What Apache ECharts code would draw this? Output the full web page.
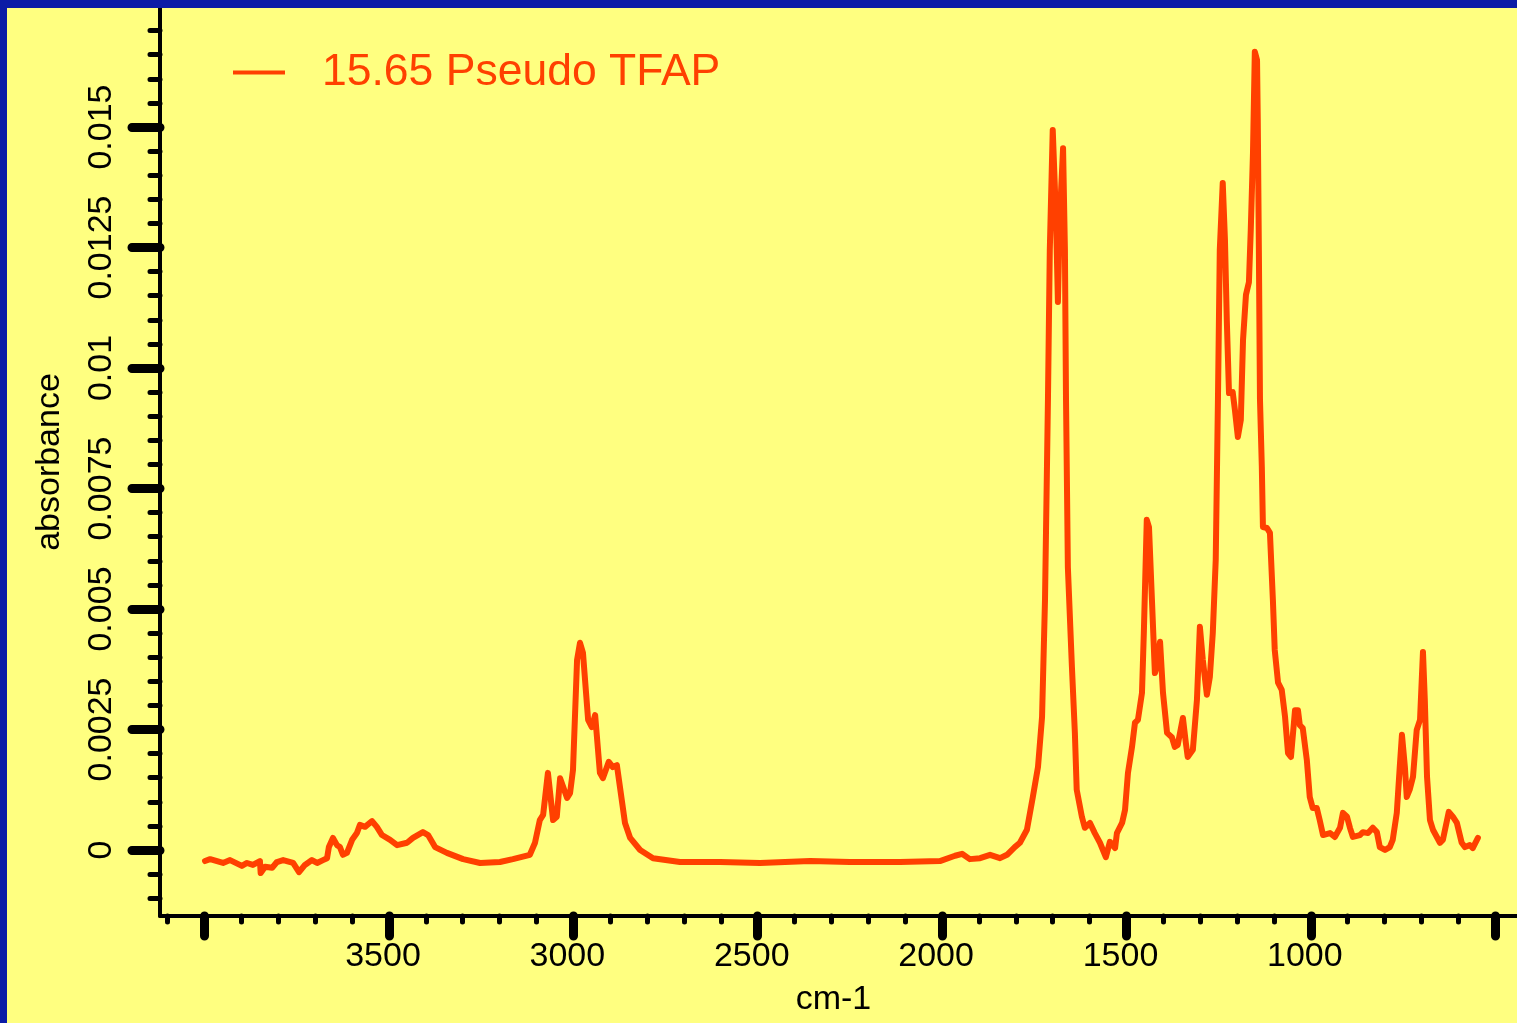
<!DOCTYPE html>
<html>
<head>
<meta charset="utf-8">
<title>15.65 Pseudo TFAP</title>
<script src="https://cdn.jsdelivr.net/npm/echarts@6/dist/echarts.min.js"></script>
<style>
  html, body { margin: 0; padding: 0; background: #ffff80; }
  #chart { width: 1517px; height: 1023px; }
</style>
</head>
<body>
<div id="chart"></div>
<script>
// spectrum (cm-1, absorbance)
const wavenumber = [
  3999, 3985, 3950, 3931, 3899, 3885, 3869, 3850, 3848, 3836, 3817, 3804, 3787, 3760, 3744, 3728,
  3709, 3695, 3679, 3668, 3663, 3652, 3641, 3633, 3625, 3614, 3600, 3587, 3579, 3565, 3546, 3533,
  3519, 3497, 3478, 3451, 3435, 3408, 3394, 3375, 3343, 3299, 3253, 3199,
  3164, 3118, 3104, 3091, 3082, 3069, 3063, 3055, 3045, 3036, 3031, 3017, 3009, 3001, 2990, 2982,
  2974, 2960, 2950, 2941, 2928, 2920, 2904, 2893, 2882, 2860, 2846, 2819, 2784, 2711,
  2602, 2494, 2358, 2250, 2114, 2006, 1965, 1946, 1925, 1897, 1870, 1843, 1824, 1803, 1789, 1770,
  1754, 1740, 1729, 1721, 1713, 1708, 1700, 1691, 1686, 1681, 1672, 1667, 1664, 1659, 1648, 1640,
  1635, 1621, 1613, 1599, 1586, 1572, 1556, 1545, 1531, 1526, 1512, 1504, 1496, 1485, 1477, 1469,
  1458, 1453, 1445, 1439, 1431, 1423, 1418, 1409, 1401, 1390, 1377, 1369, 1361, 1347, 1339, 1334,
  1320, 1309, 1301, 1293, 1282, 1274, 1266, 1258, 1252, 1247, 1239, 1233, 1228, 1222, 1212, 1206,
  1198, 1190, 1184, 1176, 1168, 1163, 1157, 1152, 1146, 1144, 1141, 1138, 1133, 1130, 1119, 1111,
  1103, 1098, 1089, 1079, 1070, 1062, 1054, 1043, 1035, 1030, 1022, 1011, 1003, 995, 984, 976,
  967, 948, 935, 921, 913, 902, 894, 886, 867, 859, 845, 832, 821, 813, 799, 786,
  778, 767, 759, 753, 745, 740, 732, 723, 713, 704, 696, 691, 685, 677, 669, 650,
  642, 626, 615, 604, 591, 582, 569, 561, 547
];
const absorbance = [
  -0.00023, -0.00019, -0.00027, -0.00021, -0.00033, -0.00027, -0.00031, -0.00023, -0.00048, -0.00035, -0.00037, -0.00025, -0.00021, -0.00027, -0.00046, -0.00031,
  -0.00021, -0.00027, -0.00021, -0.00017, 0.00006, 0.00025, 0.0001, 0.00006, -0.0001, -0.00006, 0.00021, 0.00035, 0.00052, 0.00048, 0.0006, 0.00048,
  0.00031, 0.00021, 0.0001, 0.00015, 0.00025, 0.00037, 0.00031, 0.00006, -0.00006, -0.00019, -0.00027, -0.00025,
  -0.00019, -0.0001, 0.00015, 0.00062, 0.00073, 0.0016, 0.00118, 0.00062, 0.00069, 0.00149, 0.00152, 0.00108, 0.00118, 0.00166, 0.00394, 0.0043,
  0.00409, 0.0027, 0.00255, 0.0028, 0.0016, 0.00149, 0.00183, 0.00172, 0.00176, 0.00056, 0.00025, 0, -0.00017, -0.00025,
  -0.00025, -0.00027, -0.00023, -0.00025, -0.00025, -0.00023, -0.00012, -0.00008, -0.00019, -0.00017, -0.0001, -0.00017, -0.0001, 0.00006, 0.00015, 0.00042,
  0.0011, 0.00172, 0.00276, 0.00519, 0.00934, 0.01245, 0.01494, 0.01307, 0.01137, 0.01307, 0.01456, 0.01245, 0.00934, 0.00587, 0.0038, 0.00243,
  0.00125, 0.00069, 0.00046, 0.00056, 0.00035, 0.00015, -0.00015, 0.00017, 0.00004, 0.00035, 0.00056, 0.00083, 0.0016, 0.00214, 0.00264, 0.0027,
  0.00326, 0.0045, 0.00685, 0.0067, 0.00519, 0.00367, 0.0038, 0.00432, 0.00326, 0.00243, 0.00234, 0.00214, 0.00218, 0.00274, 0.00222, 0.00193,
  0.00208, 0.00311, 0.00463, 0.00394, 0.00322, 0.00359, 0.0045, 0.00602, 0.00934, 0.01245, 0.01384, 0.01266, 0.011, 0.00948, 0.0095, 0.00913,
  0.00857, 0.00892, 0.01058, 0.01152, 0.01178, 0.01286, 0.01446, 0.01656, 0.01639, 0.01515, 0.01245, 0.00934, 0.00795, 0.0067, 0.00668, 0.00658,
  0.00519, 0.00415, 0.00347, 0.00332, 0.00276, 0.00201, 0.00193, 0.0029, 0.0029, 0.00259, 0.00253, 0.00187, 0.0011, 0.00087, 0.00087, 0.00062,
  0.00031, 0.00035, 0.00027, 0.00046, 0.00077, 0.00069, 0.00046, 0.00027, 0.00031, 0.00037, 0.00035, 0.00046, 0.00037, 0.00006, 0, 0.00006,
  0.00021, 0.00077, 0.00172, 0.00239, 0.00172, 0.0011, 0.00125, 0.00152, 0.00249, 0.0027, 0.00411, 0.00311, 0.00152, 0.00062, 0.00042, 0.00015,
  0.00021, 0.00079, 0.00069, 0.00056, 0.00015, 0.00006, 0.0001, 0.00004, 0.00025
];
const seriesName = '15.65 Pseudo TFAP';
const xMajor = [4000, 3500, 3000, 2500, 2000, 1500, 1000, 500];
const xLabels = [3500, 3000, 2500, 2000, 1500, 1000];
const yMajor = [0, 0.0025, 0.005, 0.0075, 0.01, 0.0125, 0.015];

let xMinor = [];
for (let v = 600; v <= 4100; v += 100) xMinor.push(v);
let yMinor = [];
for (let i = -2; i <= 34; i++) yMinor.push(+(i * 0.0005).toFixed(4));

const points = wavenumber.map((w, i) => [w, absorbance[i]]);

const lineColor = '#ff4000';
const font = 'Liberation Sans, Arial, sans-serif';

const chart = echarts.init(document.getElementById('chart'));
const xRange = { min: 441, max: 4121, inverse: true };
const yRange = { min: -0.00137, max: 0.01747 };

chart.setOption({
  backgroundColor: '#ffff80',
  animation: false,
  graphic: [
    { type: 'rect', shape: { x: 0, y: 0, width: 1517, height: 8 }, style: { fill: '#0b1ca6' }, z: 100 },
    { type: 'rect', shape: { x: 0, y: 0, width: 7, height: 1023 }, style: { fill: '#0b1ca6' }, z: 100 }
  ],
  legend: {
    data: [{ name: seriesName, icon: 'rect' }],
    left: 233,
    top: 50,
    padding: 0,
    itemWidth: 52,
    itemHeight: 4,
    textStyle: {
      color: lineColor,
      fontSize: 44.5,
      fontFamily: font,
      padding: [0, 0, 0, 32]
    }
  },
  grid: {
    left: 160,
    right: 0,
    top: 8,
    bottom: 107
  },
  xAxis: [
    Object.assign({
      type: 'value',
      position: 'bottom',
      name: 'cm-1',
      nameLocation: 'middle',
      nameGap: 67,
      nameTextStyle: { color: '#000', fontSize: 34, fontFamily: font, padding: [0, 10, 0, 0] },
      splitLine: { show: false },
      axisLine: { show: true, onZero: false, lineStyle: { color: '#000', width: 4 } },
      axisTick: {
        show: true,
        customValues: xMajor,
        length: 20,
        lineStyle: { color: '#000', width: 9, cap: 'round' }
      },
      axisLabel: {
        customValues: xLabels,
        margin: 24,
        color: '#000',
        fontSize: 34,
        fontFamily: font,
        padding: [0, 12, 0, 0],
        formatter: v => String(v)
      }
    }, xRange),
    Object.assign({
      type: 'value',
      position: 'bottom',
      splitLine: { show: false },
      axisLine: { show: false, onZero: false },
      axisLabel: { show: false },
      axisTick: {
        show: true,
        customValues: xMinor,
        length: 6,
        lineStyle: { color: '#000', width: 5, cap: 'round' }
      }
    }, xRange)
  ],
  yAxis: [
    Object.assign({
      type: 'value',
      position: 'left',
      name: 'absorbance',
      nameLocation: 'middle',
      nameGap: 93,
      nameTextStyle: { color: '#000', fontSize: 34, fontFamily: font },
      splitLine: { show: false },
      axisLine: { show: true, onZero: false, lineStyle: { color: '#000', width: 4 } },
      axisTick: {
        show: true,
        customValues: yMajor,
        length: 28,
        lineStyle: { color: '#000', width: 9, cap: 'round' }
      },
      axisLabel: {
        customValues: yMajor,
        rotate: 90,
        margin: 41,
        color: '#000',
        fontSize: 34,
        fontFamily: font,
        formatter: v => String(parseFloat(v.toFixed(4)))
      }
    }, yRange),
    Object.assign({
      type: 'value',
      position: 'left',
      splitLine: { show: false },
      axisLine: { show: false, onZero: false },
      axisLabel: { show: false },
      axisTick: {
        show: true,
        customValues: yMinor,
        length: 10,
        lineStyle: { color: '#000', width: 5, cap: 'round' }
      }
    }, yRange)
  ],
  series: [{
    name: seriesName,
    type: 'line',
    xAxisIndex: 0,
    yAxisIndex: 0,
    data: points,
    symbol: 'none',
    smooth: false,
    lineStyle: { color: lineColor, width: 6, cap: 'round', join: 'round' },
    itemStyle: { color: lineColor }
  }]
});
</script>
</body>
</html>
